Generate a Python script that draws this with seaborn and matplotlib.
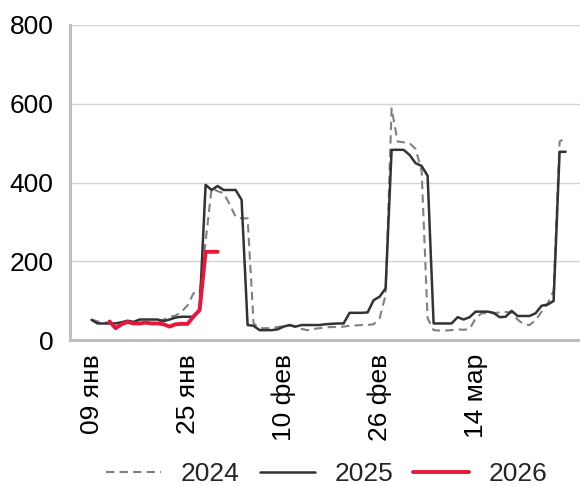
import numpy as np
import pandas as pd
import seaborn as sns
import matplotlib.pyplot as plt

# daily values, 09 Jan .. 29 Mar
dates = pd.date_range("2025-01-09", periods=80, freq="D")

y2024 = [52, 47, 45, 43, 43, 42, 43, 42, 44, 44,
         43, 45, 52, 59, 62, 72, 88, 119, 119, 250,
         385, 378, 373, 345, 313, 309, 309, 42, 30, 30,
         30, 33, 35, 37, 33, 28, 25, 28, 30, 32,
         33, 33, 34, 36, 37, 38, 38, 40, 55, 114,
         588, 504, 502, 500, 485, 430, 55, 25, 24, 24,
         25, 27, 26, 28, 55, 68, 68, 68, 70, 71,
         70, 52, 40, 38, 50, 72, 92, 125, 504, 514]

y2025 = [51, 42, 42, 42, 42, 45, 49, 46, 52, 52,
         52, 52, 48, 52, 57, 59, 59, 59, 75, 394,
         381, 391, 381, 381, 381, 356, 38, 36, 25, 25,
         25, 27, 34, 38, 34, 38, 38, 38, 38, 40,
         41, 42, 42, 69, 69, 69, 70, 101, 110, 131,
         483, 483, 483, 470, 449, 442, 417, 42, 42, 42,
         42, 58, 52, 58, 72, 72, 72, 69, 58, 59,
         74, 61, 61, 61, 68, 87, 90, 99, 478, 478]

y2026 = [np.nan, np.nan, np.nan, 47, 30, 40, 46, 42, 42, 44,
         42, 42, 40, 34, 40, 41, 41, 60, 76, 224,
         224, 224] + [np.nan] * 58

tick_labels = ["09 янв", "25 янв", "10 фев", "26 фев", "14 мар"]

sns.set_theme(style="white")
plt.rcParams['font.family'] = ['Liberation Sans', 'DejaVu Sans']

fig = plt.figure(figsize=(5.8, 4.87), dpi=100)
ax = fig.add_axes([70 / 580, 1 - 340 / 487, 510 / 580, 315 / 487])

sns.lineplot(x=dates, y=y2024, ax=ax, color="#808080", linewidth=1.5,
             linestyle=(0, (4, 2.5)), label="2024")
sns.lineplot(x=dates, y=y2025, ax=ax, color="#333333", linewidth=1.8, label="2025")
sns.lineplot(x=dates, y=y2026, ax=ax, color="#e8173a", linewidth=2.8, label="2026")

ax.set_ylim(0, 800)
ax.set_yticks([0, 200, 400, 600, 800])
ax.set_xlim(dates[0] - pd.Timedelta(days=3.6), dates[0] + pd.Timedelta(days=81.4))
ax.set_xticks(dates[[0, 16, 32, 48, 64]])
ax.set_xticklabels(tick_labels, rotation=90, ha="center", va="top")
ax.set_xlabel(None)
ax.set_ylabel(None)

ax.yaxis.grid(True, color="#d3d3d3", linewidth=1)
ax.xaxis.grid(False)
ax.tick_params(axis="both", length=0, labelsize=19, colors="black")
ax.tick_params(axis="y", pad=12)
ax.tick_params(axis="x", pad=10)

ax.spines["top"].set_visible(False)
ax.spines["right"].set_visible(False)
ax.spines["left"].set_color("#bfbfbf")
ax.spines["bottom"].set_color("#bfbfbf")
ax.spines["left"].set_linewidth(2.2)
ax.spines["bottom"].set_linewidth(2.2)

handles, labels = ax.get_legend_handles_labels()
ax.get_legend().remove()
fig.legend(handles, labels, loc="center", bbox_to_anchor=(0.563, 0.027), ncol=3,
           frameon=False, fontsize=19, handlelength=2.1, handletextpad=0.75,
           columnspacing=0.75)

fig.savefig("out.png", dpi=100)
